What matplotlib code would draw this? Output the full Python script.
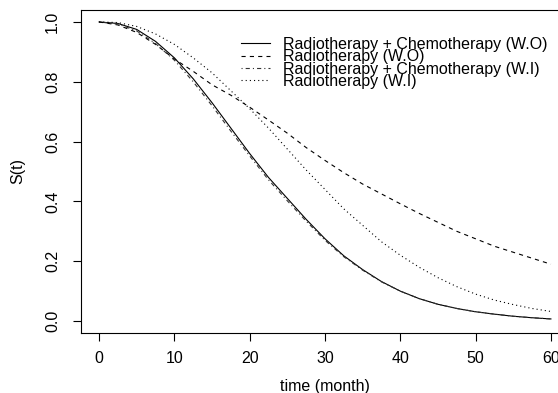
import matplotlib
matplotlib.use("Agg")
import matplotlib.pyplot as plt

plt.rcParams['font.family'] = ['Liberation Sans', 'DejaVu Sans']
plt.rcParams['lines.scale_dashes'] = False

# survival curves (months)
months = [0, 2.5, 5, 7.5, 10, 12.5, 15, 17.5, 20, 22.5, 25, 27.5, 30,
          32.5, 35, 37.5, 40, 42.5, 45, 47.5, 50, 52.5, 55, 57.5, 60]

rt_chemo_wo = [1.0, 0.995, 0.975, 0.935, 0.88, 0.81, 0.73, 0.645, 0.56, 0.48,
               0.41, 0.34, 0.275, 0.218, 0.172, 0.132, 0.10, 0.075, 0.056,
               0.042, 0.031, 0.023, 0.016, 0.011, 0.007]
rt_wo = [1.0, 0.99, 0.965, 0.925, 0.876, 0.835, 0.79, 0.755, 0.715, 0.672,
         0.628, 0.58, 0.537, 0.496, 0.458, 0.425, 0.392, 0.36, 0.33, 0.30,
         0.275, 0.25, 0.23, 0.21, 0.19]
rt_chemo_wi = [1.0, 0.993, 0.97, 0.928, 0.872, 0.80, 0.72, 0.635, 0.552, 0.472,
               0.402, 0.334, 0.27, 0.215, 0.17, 0.131, 0.10, 0.075, 0.056,
               0.042, 0.031, 0.023, 0.016, 0.011, 0.007]
rt_wi = [1.0, 0.998, 0.985, 0.96, 0.925, 0.88, 0.83, 0.77, 0.71, 0.645,
         0.575, 0.505, 0.44, 0.375, 0.32, 0.265, 0.22, 0.18, 0.145, 0.115,
         0.09, 0.07, 0.055, 0.042, 0.032]

labels = ['Radiotherapy + Chemotherapy (W.O)', 'Radiotherapy (W.O)',
          'Radiotherapy + Chemotherapy (W.I)', 'Radiotherapy (W.I)']

fig = plt.figure(figsize=(5.58, 3.93), dpi=100)
ax = fig.add_axes([81 / 558, 60 / 393, 488 / 558, 323 / 393])

lw = 0.8
ax.plot(months, rt_chemo_wo, color='black', lw=lw, label=labels[0])
ax.plot(months, rt_wo, color='black', lw=lw, dashes=(3, 3), label=labels[1])
ax.plot(months, rt_chemo_wi, color='#333333', lw=lw, dashes=(0.8, 2.2, 3, 2.2),
        label=labels[2])
ax.plot(months, rt_wi, color='black', lw=lw, dashes=(0.8, 2.2), label=labels[3])

ax.set_xlim(-2.4, 62.4)
ax.set_ylim(-0.04, 1.04)
ax.set_xticks([0, 10, 20, 30, 40, 50, 60])
ax.set_yticks([0.0, 0.2, 0.4, 0.6, 0.8, 1.0])
ax.set_yticklabels(['0.0', '0.2', '0.4', '0.6', '0.8', '1.0'], rotation=90,
                   va='center')
ax.tick_params(axis='both', length=6, width=0.8, labelsize=11.5)
ax.tick_params(axis='x', pad=7)
ax.tick_params(axis='y', pad=9)
for s in ax.spines.values():
    s.set_linewidth(0.8)

ax.set_xlabel('time (month)', fontsize=11.5, labelpad=9)
ax.set_ylabel('S(t)', fontsize=11.5, labelpad=14)

ax.legend(loc='upper left', bbox_to_anchor=(0.328, 0.9165), frameon=False,
          fontsize=11.5, handlelength=1.8, handletextpad=0.8,
          labelspacing=-0.17, borderpad=0, borderaxespad=0)

fig.savefig('out.png', dpi=100)
